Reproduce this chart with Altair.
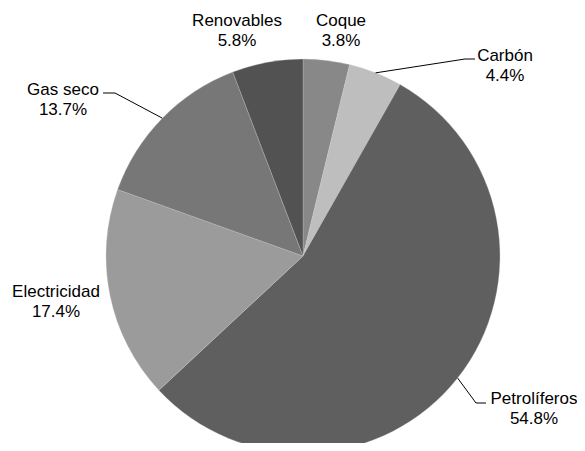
import math
import altair as alt
import pandas as pd

# ---- data ----
categories = ["Coque", "Carbón", "Petrolíferos", "Electricidad", "Gas seco", "Renovables"]
shares = [3.8, 4.4, 54.8, 17.4, 13.7, 5.8]
colors = ["#888888", "#bebebe", "#5f5f5f", "#9b9b9b", "#777777", "#525252"]

# ---- layout ----
W, H = 569, 435          # plot area (page minus 8px margins)
CX, CY = 295, 248        # pie centre inside plot area
R = 197                  # pie radius
FONT = "Arial, Liberation Sans"

# label anchor (centre of text, baseline of first line) relative to pie centre
label_pos = {
    "Coque": (38, -230),
    "Renovables": (-66, -230),
    "Carbón": (202, -195),
    "Petrolíferos": (231, 148),
    "Electricidad": (-247, 41),
    "Gas seco": (-240, -161),
}
# leader-line elbow and end points relative to pie centre
leaders = {
    "Carbón": [(162, -197), (172, -197)],
    "Petrolíferos": [(173, 147), (183, 147)],
    "Gas seco": [(-188, -163), (-200, -163)],
}

total = sum(shares)
pie_df = pd.DataFrame({
    "cat": categories,
    "share": shares,
    "idx": list(range(len(categories))),
})

# labels
lab_rows = []
for c, s in zip(categories, shares):
    lx, ly = label_pos[c]
    lab_rows.append({"cat": c, "x": lx, "y": ly, "label": f"{c}\n{s:.1f}%"})
lab_df = pd.DataFrame(lab_rows)

# leader lines start on the pie edge at the slice mid-angle
line_rows = []
cum = 0.0
for c, s in zip(categories, shares):
    mid = (cum + s / 2) / total * 2 * math.pi
    cum += s
    if c in leaders:
        pts = [(R * math.sin(mid), -R * math.cos(mid))] + leaders[c]
        for i, (px, py) in enumerate(pts):
            line_rows.append({"cat": c, "i": i, "x": px, "y": py})
line_df = pd.DataFrame(line_rows)

xs = alt.Scale(domain=[-CX, W - CX], nice=False, zero=False)
ys = alt.Scale(domain=[-CY, H - CY], nice=False, zero=False, reverse=True)

pie = alt.Chart(pie_df).mark_arc(outerRadius=R, stroke="#d0d0d0", strokeWidth=0.3).encode(
    theta=alt.Theta("share:Q", stack=True),
    color=alt.Color("cat:N", scale=alt.Scale(domain=categories, range=colors), legend=None),
    order=alt.Order("idx:Q"),
    x=alt.value(CX),
    y=alt.value(CY),
)

lines = alt.Chart(line_df).mark_line(color="black", strokeWidth=1).encode(
    x=alt.X("x:Q", scale=xs, axis=None),
    y=alt.Y("y:Q", scale=ys, axis=None),
    detail="cat:N",
    order="i:Q",
)

texts = alt.Chart(lab_df).mark_text(
    font=FONT, fontSize=17, lineBreak="\n", lineHeight=20,
    align="center", baseline="alphabetic", color="black",
).encode(
    x=alt.X("x:Q", scale=xs, axis=None),
    y=alt.Y("y:Q", scale=ys, axis=None),
    text="label:N",
)

chart = alt.layer(pie, lines, texts).properties(
    width=W, height=H, padding=0, autosize=alt.AutoSizeParams(type="none"),
).configure_view(stroke=None)

chart.save("out.html", embed_options={"renderer": "svg", "actions": False})
